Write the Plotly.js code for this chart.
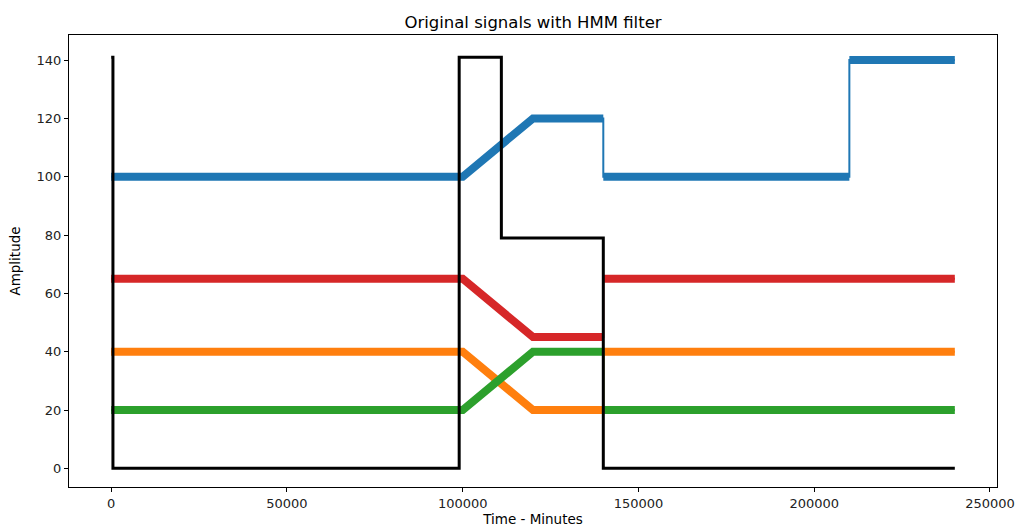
<!DOCTYPE html>
<html>
<head>
<meta charset="utf-8">
<script src="https://cdn.plot.ly/plotly-3.0.1.min.js"></script>
<style>html,body{margin:0;padding:0;background:#fff;}#chart{width:1016px;height:527px;}</style>
</head>
<body>
<div id="chart"></div>
<script>
// Key points of each signal (time in minutes, amplitude)
const blueX   = [0, 100000, 120000, 140000, 140000, 210000, 210000, 240000];
const blueY   = [100, 100, 120, 120, 100, 100, 140, 140];
const orangeX = [0, 100000, 120000, 140000, 140000, 240000];
const orangeY = [40, 40, 20, 20, 40, 40];
const greenX  = [0, 100000, 120000, 140000, 140000, 240000];
const greenY  = [20, 20, 40, 40, 20, 20];
const redX    = [0, 100000, 120000, 140000, 140000, 240000];
const redY    = [65, 65, 45, 45, 65, 65];
const hmmX    = [0, 500, 500, 99000, 99000, 111000, 111000, 140000, 140000, 240000];
const hmmY    = [141, 141, 0, 0, 141, 141, 79, 79, 0, 0];

const xTicks = [0, 50000, 100000, 150000, 200000, 250000];
const yTicks = [0, 20, 40, 60, 80, 100, 120, 140];

// Split into segments at vertical jumps (for the thick noisy band)
function bands(xs, ys) {
  const bx = [], by = [];
  for (let i = 0; i < xs.length; i++) {
    if (i > 0 && xs[i] === xs[i - 1]) { bx.push(null); by.push(null); }
    bx.push(xs[i]); by.push(ys[i]);
  }
  return [bx, by];
}

const signals = [
  {x: blueX, y: blueY, c: '#1f77b4'},
  {x: orangeX, y: orangeY, c: '#ff7f0e'},
  {x: greenX, y: greenY, c: '#2ca02c'},
  {x: redX, y: redY, c: '#d62728'}
];

const traces = [];
signals.forEach(s => {
  traces.push({x: s.x, y: s.y, mode: 'lines', line: {color: s.c, width: 2}, hoverinfo: 'skip', showlegend: false});
  const [bx, by] = bands(s.x, s.y);
  traces.push({x: bx, y: by, mode: 'lines', connectgaps: false, line: {color: s.c, width: 8}, hoverinfo: 'skip', showlegend: false});
});
traces.push({x: hmmX, y: hmmY, mode: 'lines', line: {color: '#000000', width: 3}, showlegend: false});

const axisCommon = {
  showgrid: false, zeroline: false, showline: true, mirror: true,
  linecolor: '#000', linewidth: 1, ticks: 'outside', ticklen: 4, tickcolor: '#000',
  tickfont: {family: 'DejaVu Sans', size: 13, color: '#222'}
};

const layout = {
  width: 1016, height: 527,
  margin: {l: 69, r: 19, t: 35, b: 40},
  paper_bgcolor: '#fff', plot_bgcolor: '#fff',
  title: {text: 'Original signals with HMM filter', font: {family: 'DejaVu Sans', size: 16.5, color: '#000'},
          x: 0.5, xref: 'paper', y: 1, yref: 'paper', yanchor: 'bottom', pad: {b: 7}},
  xaxis: Object.assign({}, axisCommon, {range: [-12000, 252000], tickvals: xTicks, ticktext: xTicks.map(String),
    title: {text: 'Time - Minutes', font: {family: 'DejaVu Sans', size: 13.5, color: '#000'}, standoff: 4}}),
  yaxis: Object.assign({}, axisCommon, {range: [-6.4, 148.6], tickvals: yTicks, ticktext: yTicks.map(String),
    title: {text: 'Amplitude', font: {family: 'DejaVu Sans', size: 13.5, color: '#000'}, standoff: 12}})
};

Plotly.newPlot('chart', traces, layout, {displayModeBar: false, staticPlot: true});
</script>
</body>
</html>
